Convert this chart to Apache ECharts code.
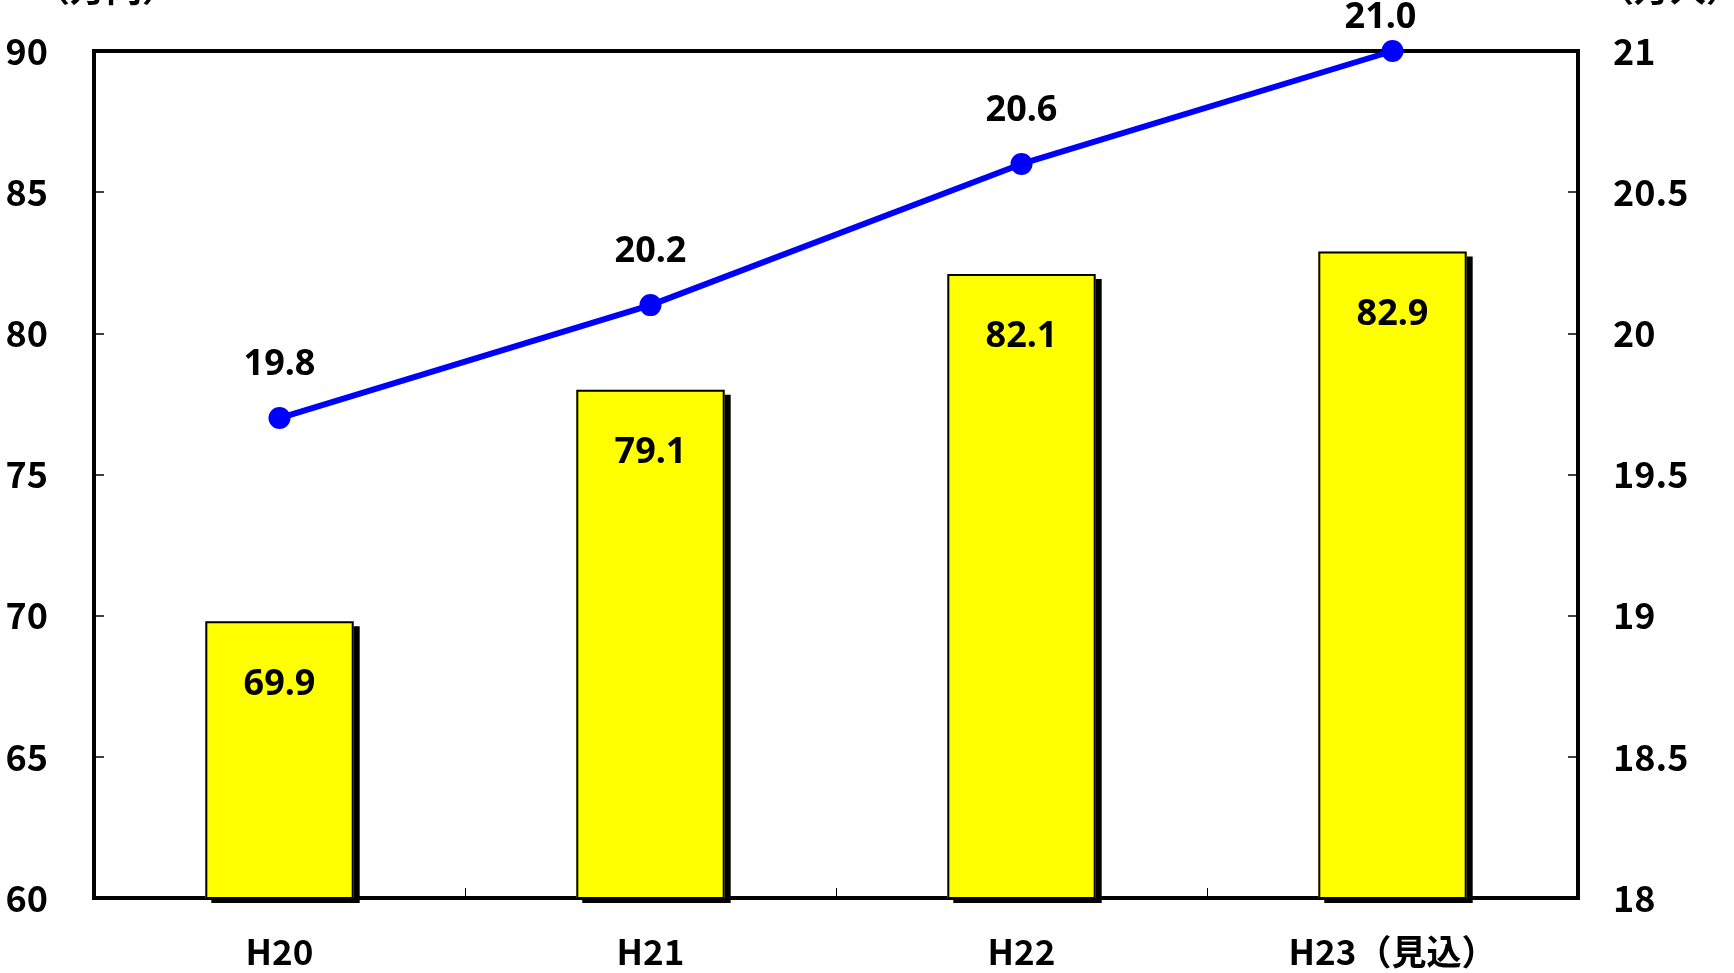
<!DOCTYPE html>
<html>
<head>
<meta charset="utf-8">
<script src="https://cdn.jsdelivr.net/npm/echarts@6/dist/echarts.min.js"></script>
<style>
  html, body { margin: 0; padding: 0; background: #fff; }
  #chart { width: 1734px; height: 973px; }
</style>
</head>
<body>
<div id="chart"></div>
<script>
// 年度
const categories = ['H20', 'H21', 'H22', 'H23（見込）']
// 棒（万円）: 図の高さから読み取った値と表示ラベル
const barValues = [69.8, 78.0, 82.1, 82.9]
const barLabels = ['69.9', '79.1', '82.1', '82.9']
// 折れ線（万人）
const lineValues = [19.7, 20.1, 20.6, 21.0]
const lineLabels = ['19.8', '20.2', '20.6', '21.0']

const AxisFont = '"Noto Sans CJK JP", "Noto Sans", sans-serif'
const LabelFont = '"Noto Sans", "Open Sans", sans-serif'

const chart = echarts.init(document.getElementById('chart'))

const lineData = lineValues.map(function (v, i) {
  const item = { value: v }
  if (i === lineValues.length - 1) {
    item.label = { distance: 4, offset: [-12, 0] }
  }
  return item
})

const AxisLabelStyle = {
  color: '#000',
  fontFamily: AxisFont,
  fontWeight: 'bold',
  fontSize: 36
}

const options = {
  animation: false,
  backgroundColor: '#ffffff',
  grid: {
    left: 94,
    right: 156,
    top: 51,
    bottom: 75,
    show: true,
    borderColor: '#000',
    borderWidth: 4,
    containLabel: false
  },
  xAxis: {
    type: 'category',
    data: categories,
    axisLine: { show: true, lineStyle: { color: '#000', width: 4 } },
    axisTick: { show: true, inside: true, length: 10, lineStyle: { color: '#000', width: 1 } },
    axisLabel: Object.assign({ margin: 36 }, AxisLabelStyle, { fontSize: 35 }),
    splitLine: { show: false }
  },
  yAxis: [
    {
      type: 'value',
      min: 60,
      max: 90,
      interval: 5,
      axisLine: { show: true, lineStyle: { color: '#000', width: 4 } },
      axisTick: { show: true, inside: true, length: 10, lineStyle: { color: '#000', width: 1.5 } },
      axisLabel: Object.assign({ margin: 46 }, AxisLabelStyle),
      splitLine: { show: false }
    },
    {
      type: 'value',
      min: 18,
      max: 21,
      interval: 0.5,
      position: 'right',
      axisLine: { show: true, lineStyle: { color: '#000', width: 4 } },
      axisTick: { show: true, inside: true, length: 10, lineStyle: { color: '#000', width: 1.5 } },
      axisLabel: Object.assign({ margin: 35 }, AxisLabelStyle),
      splitLine: { show: false }
    }
  ],
  graphic: [
    {
      type: 'text',
      left: 34,
      top: -30,
      style: { text: '（万円）', fill: '#000', font: 'bold 36px ' + AxisFont }
    },
    {
      type: 'text',
      left: 1598,
      top: -30,
      style: { text: '（万人）', fill: '#000', font: 'bold 36px ' + AxisFont }
    }
  ],
  series: [
    {
      // 塗りと影
      name: '万円',
      type: 'bar',
      yAxisIndex: 0,
      barWidth: '40%',
      data: barValues,
      itemStyle: {
        color: '#ffff00',
        borderWidth: 0,
        shadowColor: '#000',
        shadowBlur: 0,
        shadowOffsetX: 6,
        shadowOffsetY: 5
      },
      silent: true
    },
    {
      // 枠線とラベル
      name: '万円枠',
      type: 'bar',
      yAxisIndex: 0,
      barWidth: '40%',
      barGap: '-100%',
      data: barValues,
      itemStyle: {
        color: 'rgba(0,0,0,0)',
        borderColor: '#000',
        borderWidth: 2
      },
      label: {
        show: true,
        position: 'insideTop',
        distance: 45,
        color: '#000',
        fontFamily: LabelFont,
        fontWeight: 'bold',
        fontSize: 36,
        formatter: function (p) {
          return barLabels[p.dataIndex]
        }
      }
    },
    {
      name: '万人',
      type: 'line',
      yAxisIndex: 1,
      data: lineData,
      symbol: 'circle',
      symbolSize: 22,
      lineStyle: { color: '#0000ff', width: 6 },
      itemStyle: { color: '#0000ff' },
      label: {
        show: true,
        position: 'top',
        distance: 24,
        color: '#000',
        fontFamily: LabelFont,
        fontWeight: 'bold',
        fontSize: 36,
        formatter: function (p) {
          return lineLabels[p.dataIndex]
        }
      },
      z: 5
    }
  ]
}

chart.setOption(options)
window.addEventListener('resize', function () {
  chart.resize()
})
</script>
</body>
</html>
